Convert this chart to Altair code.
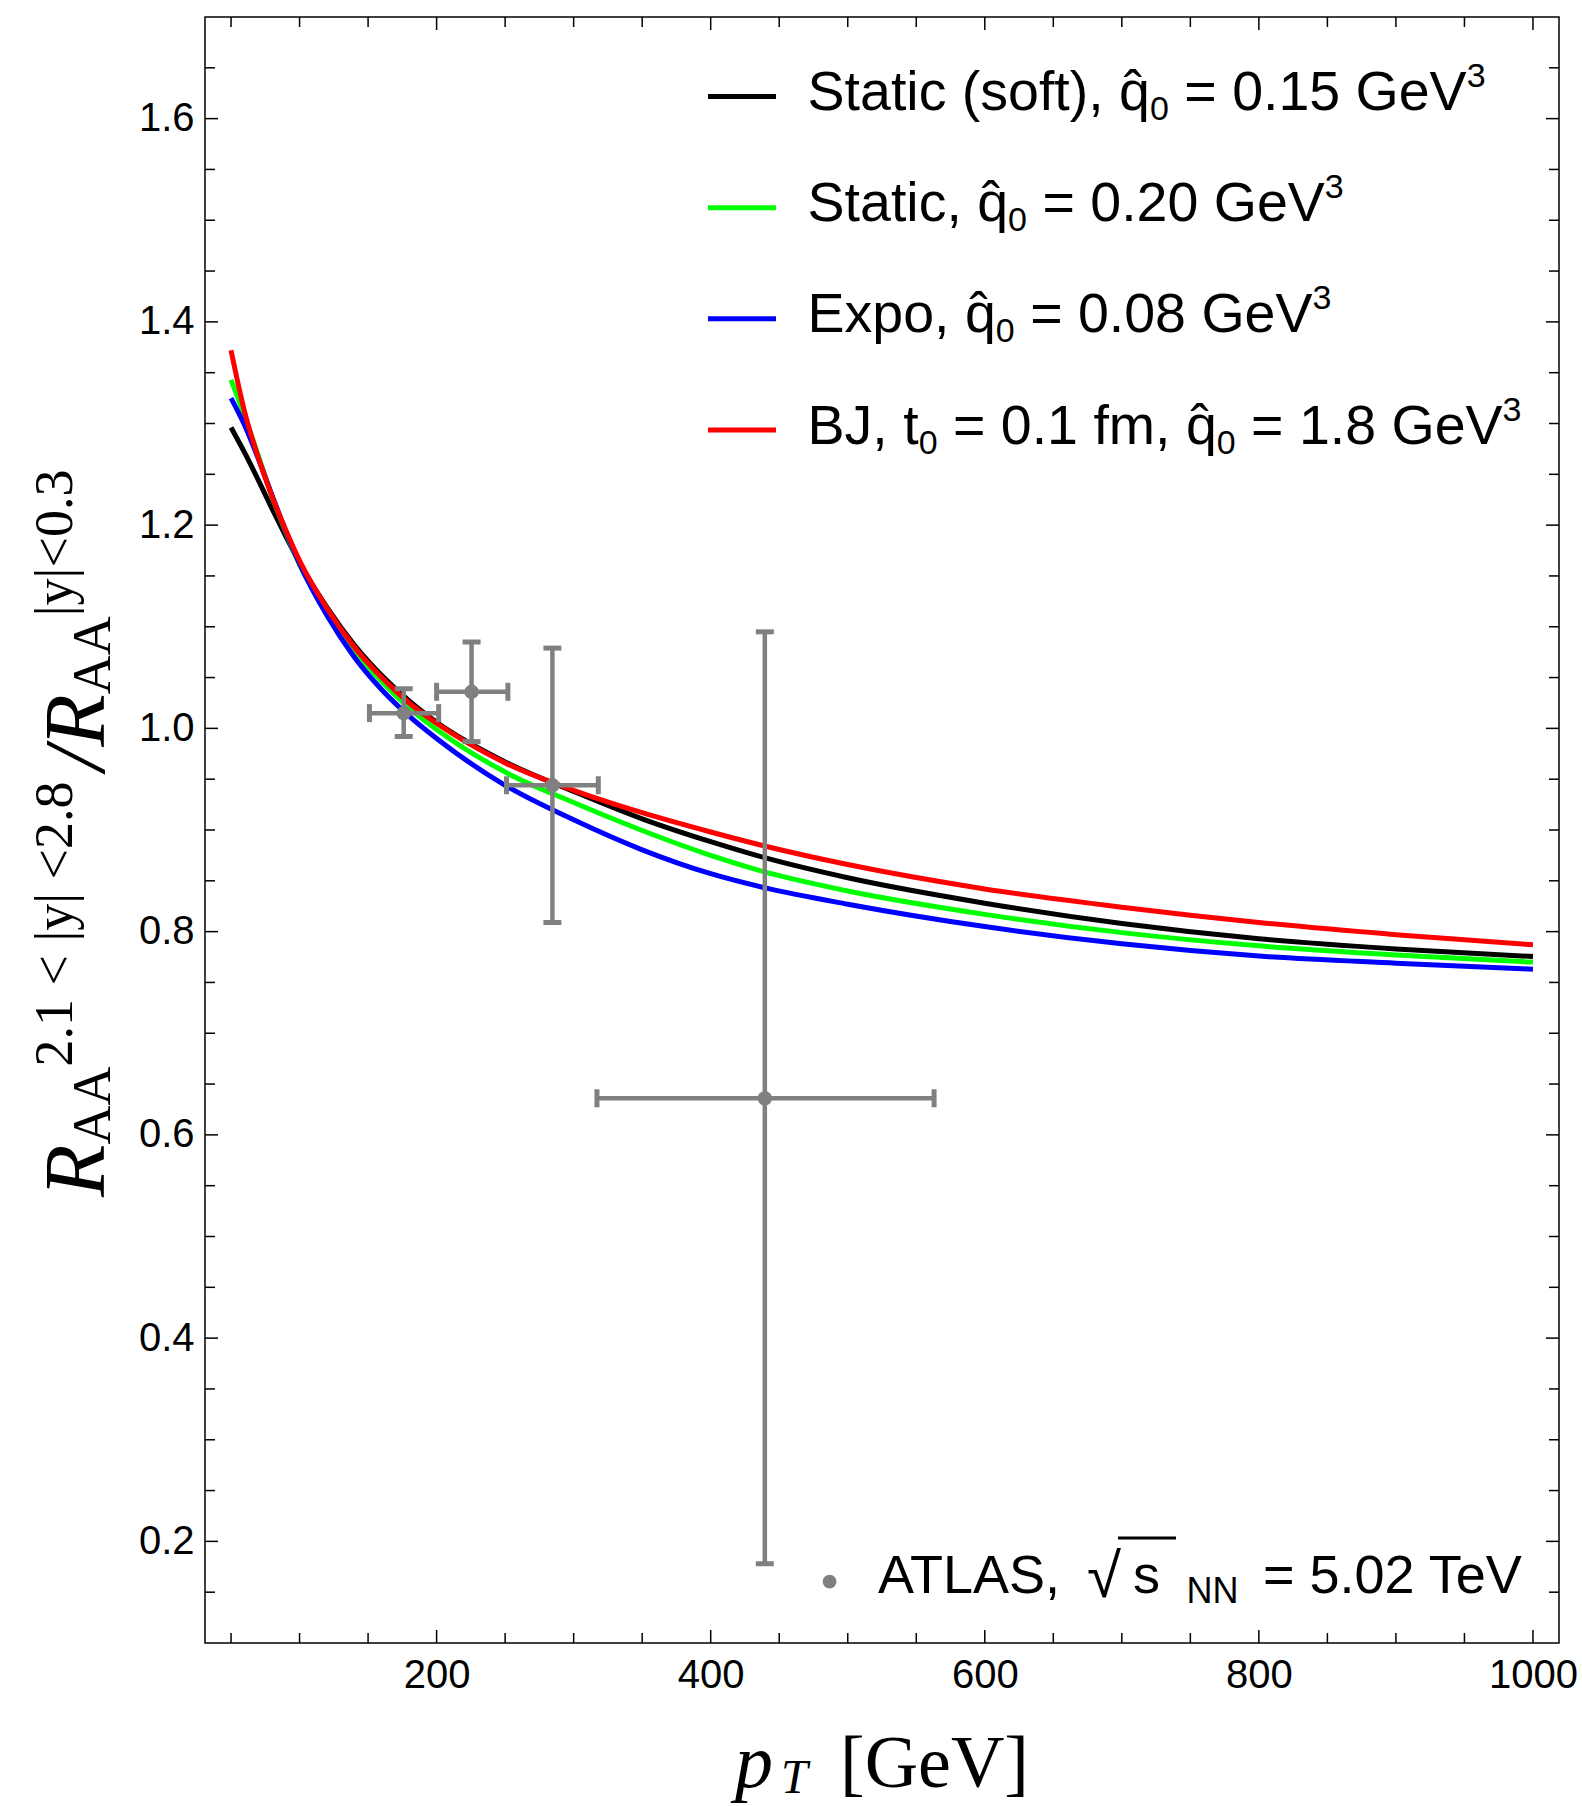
import altair as alt
import pandas as pd

# ---------------- data ----------------
pt_grid = [50, 60, 70, 80, 90, 100, 120, 140, 160, 180, 200, 250, 300, 350, 400, 440,
           500, 600, 700, 800, 900, 1000]

r_static_soft = [1.296, 1.271, 1.244, 1.216, 1.189, 1.163, 1.119, 1.082, 1.052, 1.027, 1.006,
                 0.967, 0.938, 0.911, 0.8885, 0.8725, 0.853, 0.828, 0.808, 0.793, 0.783, 0.7755]
r_static = [1.343, 1.307, 1.268, 1.228, 1.193, 1.161, 1.115, 1.077, 1.046, 1.020, 0.999,
            0.957, 0.927, 0.8995, 0.875, 0.8585, 0.840, 0.817, 0.799, 0.786, 0.777, 0.770]
r_expo = [1.325, 1.298, 1.265, 1.229, 1.194, 1.162, 1.111, 1.070, 1.038, 1.012, 0.990,
          0.944, 0.910, 0.8805, 0.857, 0.843, 0.827, 0.805, 0.788, 0.776, 0.769, 0.763]
r_bj = [1.372, 1.311, 1.266, 1.228, 1.195, 1.165, 1.118, 1.080, 1.050, 1.025, 1.005,
        0.966, 0.939, 0.917, 0.898, 0.884, 0.866, 0.842, 0.824, 0.809, 0.797, 0.787]

series_colors = ["#000000", "#00ff00", "#0000ff", "#ff0000"]
# legend labels as (text, kind) pieces: kind = main / sub / sup
Q = "q\u0302"
series_labels = [
    [("Static (soft), " + Q, "main"), ("0", "sub"), (" = 0.15 GeV", "main"), ("3", "sup")],
    [("Static, " + Q, "main"), ("0", "sub"), (" = 0.20 GeV", "main"), ("3", "sup")],
    [("Expo, " + Q, "main"), ("0", "sub"), (" = 0.08 GeV", "main"), ("3", "sup")],
    [("BJ, t", "main"), ("0", "sub"), (" = 0.1 fm, " + Q, "main"), ("0", "sub"),
     (" = 1.8 GeV", "main"), ("3", "sup")],
]

atlas_pt = [176, 225.5, 284.5, 439.5]
atlas_pt_lo = [151, 200, 251, 317]
atlas_pt_hi = [201.5, 252, 318, 563]
atlas_r = [1.015, 1.036, 0.944, 0.636]
atlas_r_lo = [0.992, 0.987, 0.809, 0.178]
atlas_r_hi = [1.039, 1.085, 1.079, 1.095]

x_major_ticks = [200, 400, 600, 800, 1000]
x_minor_ticks = [50, 100, 150, 250, 300, 350, 450, 500, 550, 650, 700, 750, 850, 900, 950]
y_major_ticks = [0.2, 0.4, 0.6, 0.8, 1.0, 1.2, 1.4, 1.6]
y_minor_ticks = [0.15, 0.25, 0.3, 0.35, 0.45, 0.5, 0.55, 0.65, 0.7, 0.75, 0.85, 0.9, 0.95,
                 1.05, 1.1, 1.15, 1.25, 1.3, 1.35, 1.45, 1.5, 1.55, 1.65]

# ---------------- layout ----------------
W, H = 1354, 1626
PL, PT = 205, 17
PAD = {"left": PL, "top": PT, "right": 1582 - PL - W, "bottom": 1806 - PT - H}
SANS = "Liberation Sans, Arial, DejaVu Sans, sans-serif"
SERIF = "Liberation Serif, Times New Roman, DejaVu Serif, serif"
GRAY = "#808080"
MAJ, MIN = 13, 10

xs = alt.Scale(domain=[31, 1019], nice=False, zero=False)
ys = alt.Scale(domain=[0.1, 1.7], nice=False, zero=False)
AX_X = alt.Axis(values=x_major_ticks, format="d", ticks=False, tickSize=0, domain=False, grid=False,
                labelFontSize=40, labelFont=SANS, labelColor="black", labelPadding=12,
                labelFlush=False, title=None)
AX_Y = alt.Axis(values=y_major_ticks, format=".1f", ticks=False, tickSize=0, domain=False, grid=False,
                labelFontSize=40, labelFont=SANS, labelColor="black", labelPadding=11,
                labelFlush=False, title=None)


def X(f):
    return alt.X(f, scale=xs, axis=AX_X)


def Y(f):
    return alt.Y(f, scale=ys, axis=AX_Y)


layers = []

# curves (drawn black, green, blue, red: red on top)
all_curves = [r_static_soft, r_static, r_expo, r_bj]
for vals, col in zip(all_curves, series_colors):
    df = pd.DataFrame({"pt": pt_grid, "r": vals})
    layers.append(alt.Chart(df).mark_line(color=col, strokeWidth=5, interpolate="monotone", clip=True)
                  .encode(x=X("pt:Q"), y=Y("r:Q")))

# ATLAS data with error bars
atlas_df = pd.DataFrame({"pt": atlas_pt, "ptlo": atlas_pt_lo, "pthi": atlas_pt_hi,
                         "r": atlas_r, "rlo": atlas_r_lo, "rhi": atlas_r_hi})
base = alt.Chart(atlas_df)
layers.append(base.mark_rule(color=GRAY, strokeWidth=4.5).encode(x=X("ptlo:Q"), x2="pthi:Q", y=Y("r:Q")))
layers.append(base.mark_rule(color=GRAY, strokeWidth=4.5).encode(x=X("pt:Q"), y=Y("rlo:Q"), y2="rhi:Q"))
for fx in ["ptlo", "pthi"]:
    layers.append(base.mark_tick(color=GRAY, orient="vertical", size=18, thickness=5, opacity=1)
                  .encode(x=X(f"{fx}:Q"), y=Y("r:Q")))
for fy in ["rlo", "rhi"]:
    layers.append(base.mark_tick(color=GRAY, orient="horizontal", size=18, thickness=5, opacity=1)
                  .encode(x=X("pt:Q"), y=Y(f"{fy}:Q")))
layers.append(base.mark_circle(color=GRAY, opacity=1, size=210).encode(x=X("pt:Q"), y=Y("r:Q")))


# inward frame ticks on all four sides
def xticks(vals, ln):
    d = alt.Chart(pd.DataFrame({"v": vals}))
    return [d.mark_rule(color="black", strokeWidth=1.5).encode(x=X("v:Q"), y=alt.value(H), y2=alt.value(H - ln)),
            d.mark_rule(color="black", strokeWidth=1.5).encode(x=X("v:Q"), y=alt.value(0), y2=alt.value(ln))]


def yticks(vals, ln):
    d = alt.Chart(pd.DataFrame({"v": vals}))
    return [d.mark_rule(color="black", strokeWidth=1.5).encode(y=Y("v:Q"), x=alt.value(0), x2=alt.value(ln)),
            d.mark_rule(color="black", strokeWidth=1.5).encode(y=Y("v:Q"), x=alt.value(W), x2=alt.value(W - ln))]


layers += xticks(x_major_ticks, MAJ) + xticks(x_minor_ticks, MIN)
layers += yticks(y_major_ticks, MAJ) + yticks(y_minor_ticks, MIN)


# text helper (positions given in page pixels)
def txt(s, x, y, size, font=SANS, style="normal", align="left", angle=0, color="black"):
    return alt.Chart(pd.DataFrame({"t": [s]})).mark_text(
        align=align, baseline="alphabetic", font=font, fontSize=size, fontStyle=style,
        angle=angle, color=color).encode(text="t:N", x=alt.value(x - PL), y=alt.value(y - PT))


# Arial / Liberation Sans advance widths (1/1000 em)
AW = {" ": 278, "(": 333, ")": 333, ",": 278, ".": 278, "=": 584, "S": 667, "t": 278, "a": 556,
      "i": 222, "c": 500, "s": 500, "o": 556, "f": 278, "q": 556, "G": 778, "e": 556, "V": 667,
      "E": 667, "x": 500, "p": 556, "B": 667, "J": 500, "m": 833}


def width(s, size):
    return sum(AW.get(c, 556 if c.isdigit() else 0) for c in s) * size / 1000.0


MAIN, SMALL = 55.5, 34
SHIFT = {"main": 0, "sub": 10, "sup": -23}

# legend (top right)
leg_y = [96.5, 207.7, 318.8, 430.0]
for pieces, col, ly in zip(series_labels, series_colors, leg_y):
    layers.append(alt.Chart(pd.DataFrame({"a": [0]})).mark_rule(color=col, strokeWidth=5).encode(
        x=alt.value(708 - PL), x2=alt.value(776 - PL), y=alt.value(ly - PT)))
    x = 807.6
    for s, kind in pieces:
        size = MAIN if kind == "main" else SMALL
        body = s.lstrip(" ")
        x += width(s[:len(s) - len(body)], size)   # leading spaces are not drawn in SVG
        layers.append(txt(body, x, ly + 13.5 + SHIFT[kind], size))
        x += width(body, size)

# ATLAS legend entry (bottom right)
layers.append(alt.Chart(pd.DataFrame({"a": [0]})).mark_circle(color=GRAY, opacity=1, size=190).encode(
    x=alt.value(829.6 - PL), y=alt.value(1581.7 - PT)))
layers.append(txt("ATLAS,", 878, 1593.3, 54))
layers.append(txt("\u221a", 1087, 1597, 62))
layers.append(alt.Chart(pd.DataFrame({"a": [0]})).mark_rule(color="black", strokeWidth=3).encode(
    x=alt.value(1118 - PL), x2=alt.value(1176 - PL), y=alt.value(1538 - PT)))
layers.append(txt("s", 1133, 1593.3, 54))
layers.append(txt("NN", 1186.6, 1603, 36))
layers.append(txt("= 5.02 TeV", 1521.7, 1593.3, 54, align="right"))

# x-axis title: p_T [GeV]
layers.append(txt("p", 735, 1787, 76, font=SERIF, style="italic"))
layers.append(txt("T", 781, 1793, 48, font=SERIF, style="italic"))
layers.append(txt("[GeV]", 840, 1787, 74, font=SERIF))

# y-axis title: R_AA^{2.1<|y|<2.8} / R_AA^{|y|<0.3} (rotated)
layers.append(txt("R", 104, 1197, 86, font=SERIF, style="italic", angle=270))
layers.append(txt("AA", 110, 1144.5, 54, font=SERIF, angle=270))
layers.append(txt("2.1 < |y| <2.8", 72, 1066.5, 54, font=SERIF, angle=270))
layers.append(txt("/R", 104, 770.7, 86, font=SERIF, style="italic", angle=270))
layers.append(txt("AA", 110, 694.2, 54, font=SERIF, angle=270))
layers.append(txt("|y|<0.3", 72, 616.2, 54, font=SERIF, angle=270))

chart = alt.layer(*layers).properties(
    width=W, height=H, padding=PAD, autosize=alt.AutoSizeParams(type="none"), background="white"
).configure_view(stroke="black", strokeWidth=1.5)

chart.save("out.html", embed_options={"renderer": "svg", "actions": False})
